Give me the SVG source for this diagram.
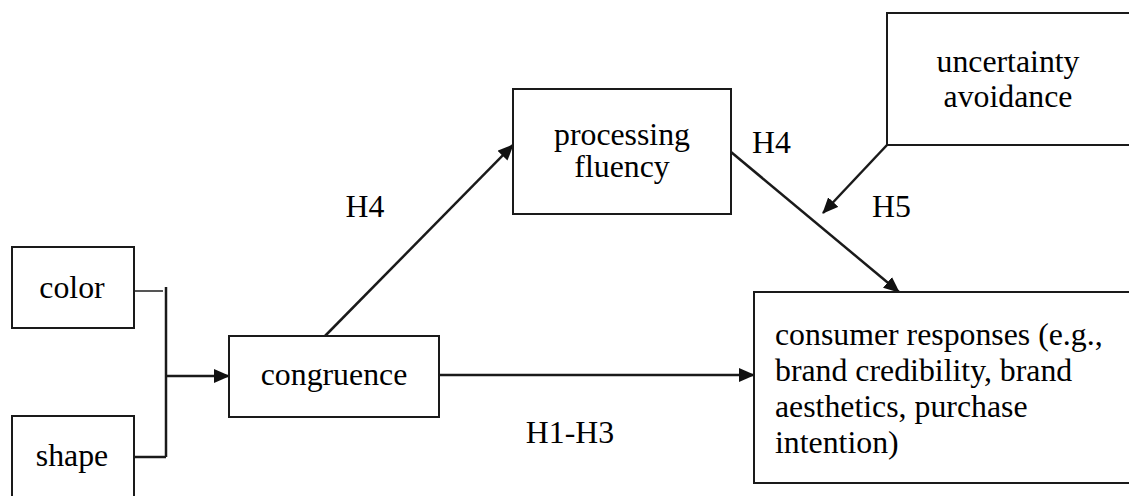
<svg xmlns="http://www.w3.org/2000/svg" width="1129" height="496" viewBox="0 0 1129 496">
  <style>
    .box { fill: #ffffff; stroke: #1a1a1a; stroke-width: 2; }
    .lbl { font-family: 'Liberation Serif', 'Times New Roman', Times, serif; font-size: 31.8px; fill: #000000; }
    .mid { text-anchor: middle; }
    .conn { fill: none; stroke: #1a1a1a; stroke-width: 2.5; }
    .thin { fill: none; stroke: #555555; stroke-width: 2; }
  </style>
  <defs>
    <marker id="head" markerUnits="userSpaceOnUse" viewBox="0 0 16 14" markerWidth="16" markerHeight="14" refX="15" refY="7" orient="auto">
      <path d="M0,0 L16,7 L0,14 Z" fill="#111111"/>
    </marker>
  </defs>
  <rect width="1129" height="496" fill="#ffffff"/>

  <!-- connectors and their hypothesis labels -->
  <g id="connectors">
    <line class="thin" x1="130" y1="291" x2="163" y2="291"/>
    <line class="conn" x1="166" y1="287" x2="166" y2="457"/>
    <line class="conn" x1="134" y1="457" x2="166" y2="457"/>
    <line class="conn" x1="166" y1="376" x2="229" y2="376" marker-end="url(#head)"/>
    <line class="conn" x1="439" y1="375" x2="754" y2="375" marker-end="url(#head)"/>
    <line class="conn" x1="325" y1="336" x2="513" y2="145" marker-end="url(#head)"/>
    <line class="conn" x1="731" y1="152" x2="899" y2="292" marker-end="url(#head)"/>
    <line class="conn" x1="887" y1="145" x2="823" y2="213" marker-end="url(#head)"/>
    <text class="lbl mid" x="365" y="217">H4</text>
    <text class="lbl" x="752" y="153">H4</text>
    <text class="lbl" x="872" y="217">H5</text>
    <text class="lbl mid" x="570" y="443">H1-H3</text>
  </g>

  <g id="color">
    <rect class="box" x="12" y="247" width="122" height="81"/>
    <text class="lbl mid" x="72" y="298">color</text>
  </g>
  <g id="shape">
    <rect class="box" x="12" y="416" width="122" height="95"/>
    <text class="lbl mid" x="72" y="466">shape</text>
  </g>
  <g id="congruence">
    <rect class="box" x="229" y="336" width="210" height="81"/>
    <text class="lbl mid" x="334" y="385">congruence</text>
  </g>
  <g id="processing-fluency">
    <rect class="box" x="513" y="89" width="218" height="125"/>
    <text class="lbl mid" x="622" y="145">processing</text>
    <text class="lbl mid" x="622" y="177">fluency</text>
  </g>
  <g id="uncertainty-avoidance">
    <rect class="box" x="887" y="13" width="260" height="132"/>
    <text class="lbl mid" x="1008" y="72">uncertainty</text>
    <text class="lbl mid" x="1008" y="107">avoidance</text>
  </g>
  <g id="consumer-responses">
    <rect class="box" x="754" y="292" width="390" height="191"/>
    <text class="lbl" x="775" y="345">consumer responses (e.g.,</text>
    <text class="lbl" x="775" y="381">brand credibility, brand</text>
    <text class="lbl" x="775" y="417">aesthetics, purchase</text>
    <text class="lbl" x="775" y="453">intention)</text>
  </g>
</svg>
